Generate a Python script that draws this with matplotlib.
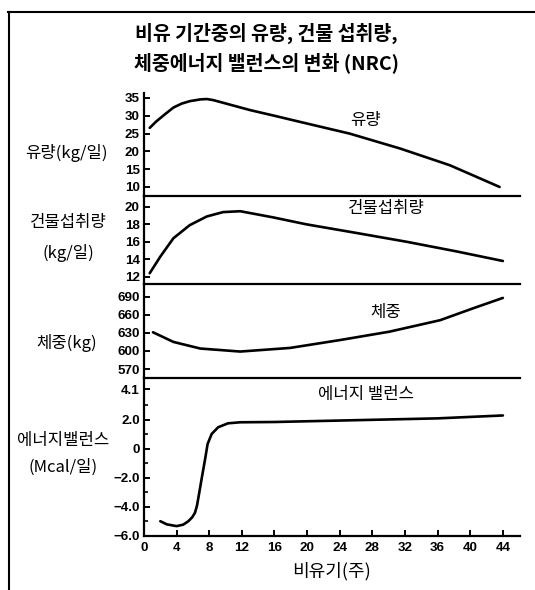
import matplotlib
matplotlib.use('Agg')
import matplotlib.pyplot as plt
from matplotlib.lines import Line2D
from matplotlib import font_manager as fm

plt.rcParams['font.family'] = ['Noto Sans CJK KR', 'DejaVu Sans']

# ---- data ----
milk_weeks = [0.7, 1.5, 2.5, 3.6, 4.6, 5.6, 6.9, 7.7, 8.5, 13.0, 16.0, 19.1, 25.2, 31.4, 37.5, 43.6]
milk_values = [26.6, 28.4, 30.3, 32.3, 33.4, 34.1, 34.6, 34.7, 34.4, 31.6, 30.0, 28.3, 25.0, 20.8, 16.1, 10.0]

dmi_weeks = [0.7, 2.0, 3.6, 5.6, 7.7, 9.7, 11.8, 15.8, 19.9, 26.1, 32.2, 38.3, 44.0]
dmi_values = [12.4, 14.3, 16.4, 17.9, 18.9, 19.4, 19.5, 18.8, 18.0, 17.0, 16.0, 14.9, 13.8]

bw_weeks = [1.1, 3.6, 6.9, 11.8, 17.9, 24.0, 30.1, 36.3, 40.4, 44.0]
bw_values = [631, 615, 604, 599, 605, 618, 632, 651, 671, 688]

eb_weeks = [2.0, 2.8, 4.0, 4.8, 5.4, 5.9, 6.25, 6.5, 6.75, 7.07, 7.5, 7.8, 8.3, 9.1, 10.3, 11.8,
            16, 20, 24, 28, 32, 36, 40, 44]
eb_values = [-4.98, -5.2, -5.32, -5.22, -5.0, -4.72, -4.4, -3.9, -3.1, -2.05, -0.68, 0.34, 1.03,
             1.49, 1.76, 1.83, 1.85, 1.9, 1.95, 2.0, 2.05, 2.1, 2.2, 2.3]

x_ticks = [0, 4, 8, 12, 16, 20, 24, 28, 32, 36, 40, 44]
milk_ticks = [10, 15, 20, 25, 30, 35]
dmi_ticks = [12, 14, 16, 18, 20]
bw_ticks = [570, 600, 630, 660, 690]
eb_ticks = [-6.0, -4.0, -2.0, 0.0, 2.0, 4.1]
eb_tick_labels = ['−6.0', '−4.0', '−2.0', '0', '2.0', '4.1']
eb_minor_ticks = [-5, -3, -1, 1, 3]

title_lines = ['비유 기간중의 유량, 건물 섭취량,', '체중에너지 밸런스의 변화 (NRC)']
panel_names = ['유량', '건물섭취량', '체중', '에너지 밸런스']
y_labels = [['유량(kg/일)'], ['건물섭취량', '(kg/일)'], ['체중(kg)'], ['에너지밸런스', '(Mcal/일)']]
x_label = '비유기(주)'

# ---- pick a narrow font for the numbers ----
def has_font(name):
    try:
        path = fm.findfont(fm.FontProperties(family=name, weight='bold'), fallback_to_default=False)
        return bool(path)
    except Exception:
        return False

num_family, num_size = 'DejaVu Sans', 8.5
for fam, size in [('Liberation Sans Narrow', 10.5), ('DejaVu Sans Condensed', 9.5), ('Liberation Sans', 9.6)]:
    if has_font(fam):
        num_family, num_size = fam, size
        break

NUM_FONT = dict(fontfamily=[num_family, 'DejaVu Sans'], fontweight='bold', fontsize=num_size)

# ---- layout ----
W, H = 535, 590
fig = plt.figure(figsize=(W / 100, H / 100), dpi=100)

def rect(top, bottom, left=144, right=520):
    return [left / W, 1 - bottom / H, (right - left) / W, (bottom - top) / H]

panels = [
    (93, 195.5, (7.6, 36.4), milk_weeks, milk_values, milk_ticks, [str(t) for t in milk_ticks]),
    (195.5, 284.3, (11.13, 21.3), dmi_weeks, dmi_values, dmi_ticks, [str(t) for t in dmi_ticks]),
    (284.3, 377.7, (555.6, 710.6), bw_weeks, bw_values, bw_ticks, [str(t) for t in bw_ticks]),
    (377.7, 536, (-6.0, 4.9), eb_weeks, eb_values, eb_ticks, eb_tick_labels),
]

axes = []
for i, (top, bottom, ylim, xs, ys, yt, ytl) in enumerate(panels):
    ax = fig.add_axes(rect(top, bottom))
    ax.plot(xs, ys, color='black', lw=1.9, solid_capstyle='round', solid_joinstyle='round')
    ax.set_xlim(0, 46.1)
    ax.set_ylim(*ylim)
    for s in ['top', 'right']:
        ax.spines[s].set_visible(False)
    for s in ['left', 'bottom']:
        ax.spines[s].set_linewidth(1.6)
    ax.set_yticks(yt)
    ax.set_yticklabels(ytl, **NUM_FONT)
    ax.tick_params(axis='y', direction='in', length=4, width=1.4, pad=3)
    if i < 3:
        ax.set_xticks([])
    else:
        ax.set_xticks(x_ticks)
        ax.set_xticklabels([str(t) for t in x_ticks], **NUM_FONT)
        ax.tick_params(axis='x', direction='in', length=4, width=1.4, pad=4)
        ax.set_yticks(eb_minor_ticks, minor=True)
        ax.tick_params(axis='y', which='minor', direction='in', length=3, width=1.2)
    ax.patch.set_alpha(0)
    axes.append(ax)

# inline panel names (pixel centres)
name_pos = [(366, 120), (386, 208), (386, 312), (366, 395)]
for (px, py), name in zip(name_pos, panel_names):
    fig.text(px / W, 1 - py / H, name, ha='center', va='center', fontsize=12)

# left labels
ylab_pos = [[(66, 153)], [(68, 223), (68, 253)], [(67, 343)], [(63, 440), (63, 467)]]
for poss, labs in zip(ylab_pos, y_labels):
    for (px, py), lab in zip(poss, labs):
        fig.text(px / W, 1 - py / H, lab, ha='center', va='center', fontsize=12)

# x label
fig.text(332 / W, 1 - 571 / H, x_label, ha='center', va='center', fontsize=13)

# title
fig.text(266 / W, 1 - 33 / H, title_lines[0], ha='center', va='center', fontsize=14, fontweight='bold')
fig.text(267 / W, 1 - 63 / H, title_lines[1], ha='center', va='center', fontsize=14, fontweight='bold')

# frame lines (top and left)
fig.add_artist(Line2D([8 / W, 1], [1 - 12 / H, 1 - 12 / H], color='black', lw=1.5))
fig.add_artist(Line2D([9 / W, 9 / W], [1 - 12 / H, 0], color='black', lw=1.5))

fig.savefig('out.png', dpi=100)
